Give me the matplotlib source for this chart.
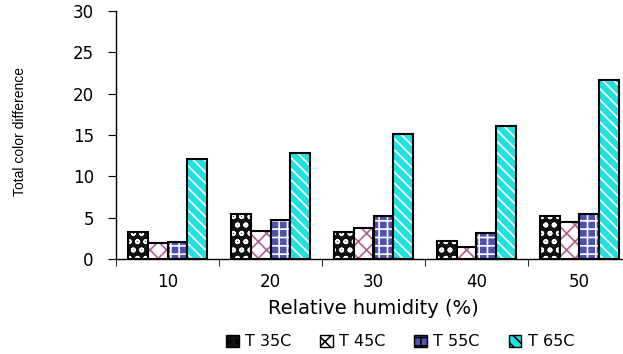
import numpy as np
import matplotlib
matplotlib.use("Agg")
import matplotlib.pyplot as plt
from matplotlib.patches import Patch

plt.rcParams["font.family"] = ["DejaVu Sans"]
plt.rcParams["hatch.linewidth"] = 1.2

# ---------------------------------------------------------------------
# Data
# ---------------------------------------------------------------------
humidity = ["10", "20", "30", "40", "50"]
series_names = ["T 35C", "T 45C", "T 55C", "T 65C"]
t35 = [3.3, 5.4, 3.3, 2.2, 5.2]
t45 = [1.9, 3.4, 3.7, 1.5, 4.5]
t55 = [2.1, 4.7, 5.2, 3.2, 5.5]
t65 = [12.1, 12.8, 15.1, 16.1, 21.6]

# face colour, hatch colour, hatch
styles = [
    ("#111111", "white", "oo"),
    ("white", "#b06090", "xx"),
    ("#5050b0", "white", "++"),
    ("#20e0e0", "white", "\\\\\\"),
]

fig = plt.figure(figsize=(6.23, 3.54), dpi=100)
ax = fig.add_axes([116 / 623, 1 - 259 / 354, (631 - 116) / 623, (259 - 11) / 354])

x = np.arange(len(humidity))
width = 0.19
offsets = (np.arange(4) - 1.5) * width
values = [t35, t45, t55, t65]

for vals, off, (fc, hc, hatch) in zip(values, offsets, styles):
    ax.bar(x + off, vals, width, color=fc, edgecolor=hc, hatch=hatch, linewidth=0)
    ax.bar(x + off, vals, width, fill=False, edgecolor="black", linewidth=1.5)

ax.set_xlim(-0.5, len(humidity) - 0.5)
ax.set_ylim(0, 30)
ax.set_yticks(range(0, 31, 5))
ax.set_xticks(x)
ax.set_xticklabels(humidity)
ax.set_xticks(np.arange(len(humidity) + 1) - 0.5, minor=True)
ax.tick_params(axis="x", which="major", length=0, pad=10, labelsize=12)
ax.tick_params(axis="x", which="minor", length=5, direction="out")
ax.tick_params(axis="y", length=6, direction="out", labelsize=12, pad=10)

for s in ["top", "right"]:
    ax.spines[s].set_visible(False)
ax.spines["left"].set_linewidth(1)
ax.spines["bottom"].set_linewidth(1)

ax.set_xlabel("Relative humidity (%)", fontsize=14, labelpad=6)
ax.set_ylabel("Total color difference", fontsize=10, family="Liberation Sans")
ax.yaxis.set_label_coords(-0.172, 0.516)

handles = [Patch(facecolor=fc, edgecolor="black", hatch=h, linewidth=1)
           for fc, hc, h in styles]
fig.legend(handles, series_names, loc="center", bbox_to_anchor=(400 / 623, 1 - 342 / 354),
           ncol=4, frameon=False, fontsize=11.5, handlelength=0.8, handleheight=0.7,
           columnspacing=1.8, handletextpad=0.4)

fig.savefig("out.png", dpi=100)
